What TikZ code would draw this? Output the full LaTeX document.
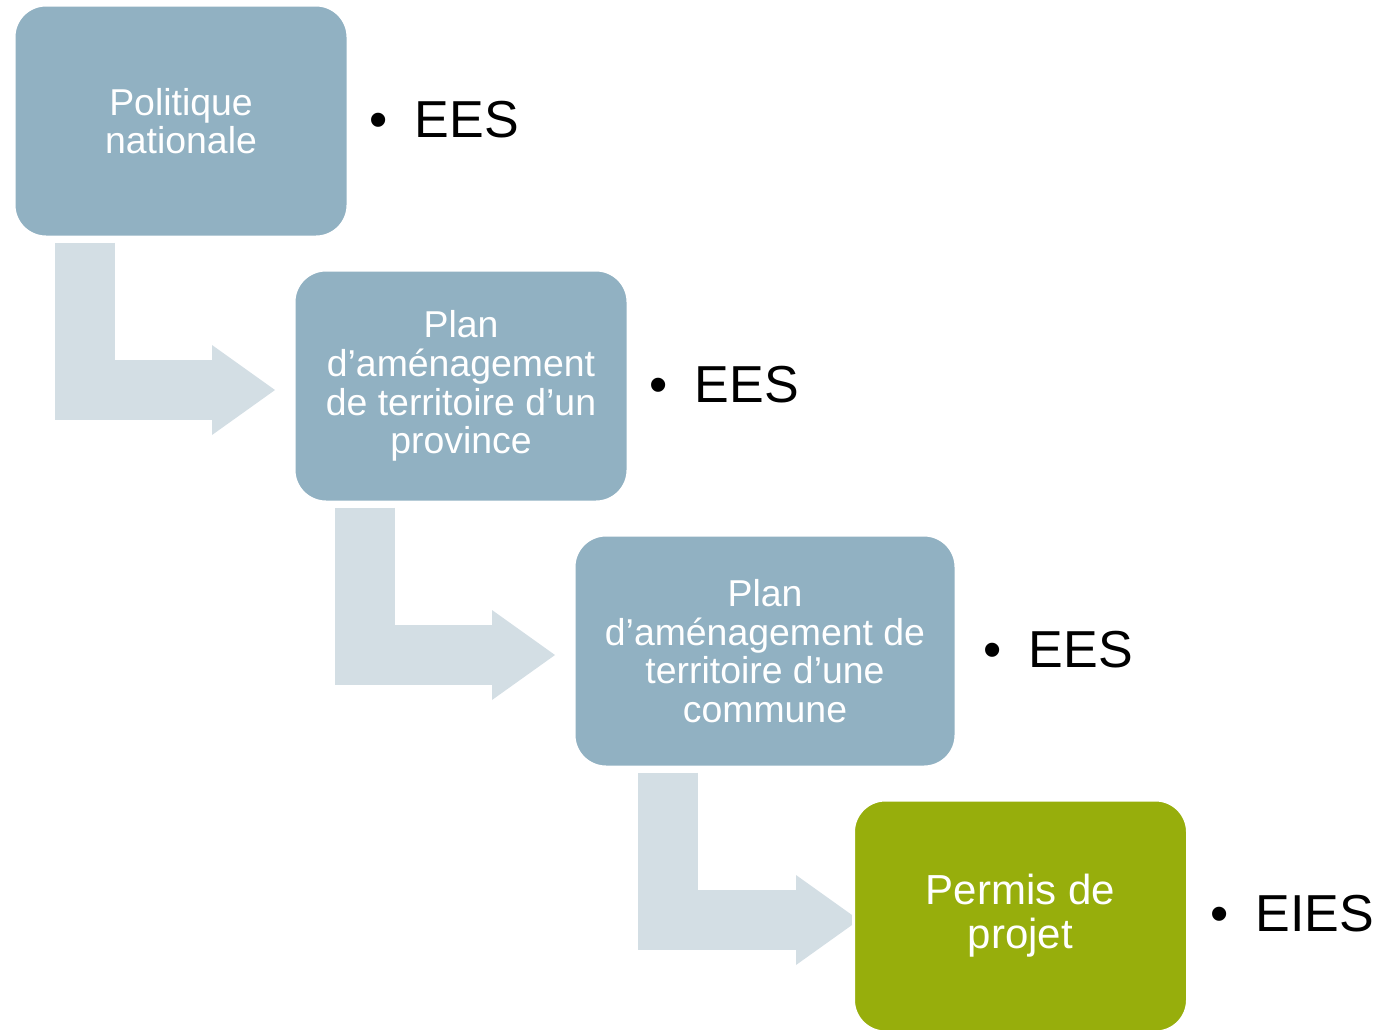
\documentclass[tikz,border=0pt]{standalone}
\usepackage{fontspec}
\setmainfont{Liberation Sans}
\usepackage{tikz}
\usetikzlibrary{positioning,calc,arrows.meta,backgrounds}

\definecolor{boxblue}{RGB}{145,177,194}
\definecolor{flowgray}{RGB}{211,222,228}
\definecolor{permgreen}{RGB}{151,174,12}

\tikzset{
  level/.style={rectangle, rounded corners=32pt, fill=boxblue, draw=white, line width=3pt,
    text=white, align=center, minimum width=334pt, minimum height=232pt, inner sep=0pt,
    font=\fontsize{37.4pt}{38.7pt}\selectfont},
  tool/.style={inner sep=0pt, font=\fontsize{52pt}{52pt}\selectfont},
  flow/.style={draw=flowgray, line width=60pt, line join=miter,
    -{Triangle[length=63pt,width=90pt,line width=0pt]}}
}

\begin{document}
\begin{tikzpicture}[x=1pt,y=-1pt]
\useasboundingbox (0,0) rectangle (1381,1029);

% levels
\node[level] (pol) at (181,121) {Politique\\nationale};
\node[level] (prov) at (461,386) {Plan\\d’aménagement\\de territoire d’un\\province};
\node[level, minimum width=382pt] (comm) at (765,651) {Plan\\d’aménagement de\\territoire d’une\\commune};
\node[level, fill=permgreen, font=\fontsize{42pt}{44pt}\selectfont] (perm) at (1020.5,916) {Permis de\\projet};

% studies
\node[tool, right=20pt of pol, yshift=1.5pt] (pol-ees) {\textbullet\hspace{27pt}EES};
\node[tool, right=20pt of prov, yshift=1.5pt] (prov-ees) {\textbullet\hspace{27pt}EES};
\node[tool, right=26pt of comm, yshift=1.5pt] (comm-ees) {\textbullet\hspace{27pt}EES};
\node[tool, right=21pt of perm, yshift=2pt] (perm-eies) {\textbullet\hspace{27pt}EIES};

% bent arrows
\begin{scope}[on background layer]
\draw[flow] ($(pol.south west)+(72.5,4)$) |- ([xshift=-17.5pt,yshift=-4pt]prov.west);
\draw[flow] ($(prov.south west)+(72,4)$) |- ([xshift=-17.5pt,yshift=-4pt]comm.west);
\draw[flow] ($(comm.south west)+(95.5,4)$) |- ([xshift=7pt,yshift=-4pt]perm.west);
\end{scope}
\end{tikzpicture}
\end{document}
